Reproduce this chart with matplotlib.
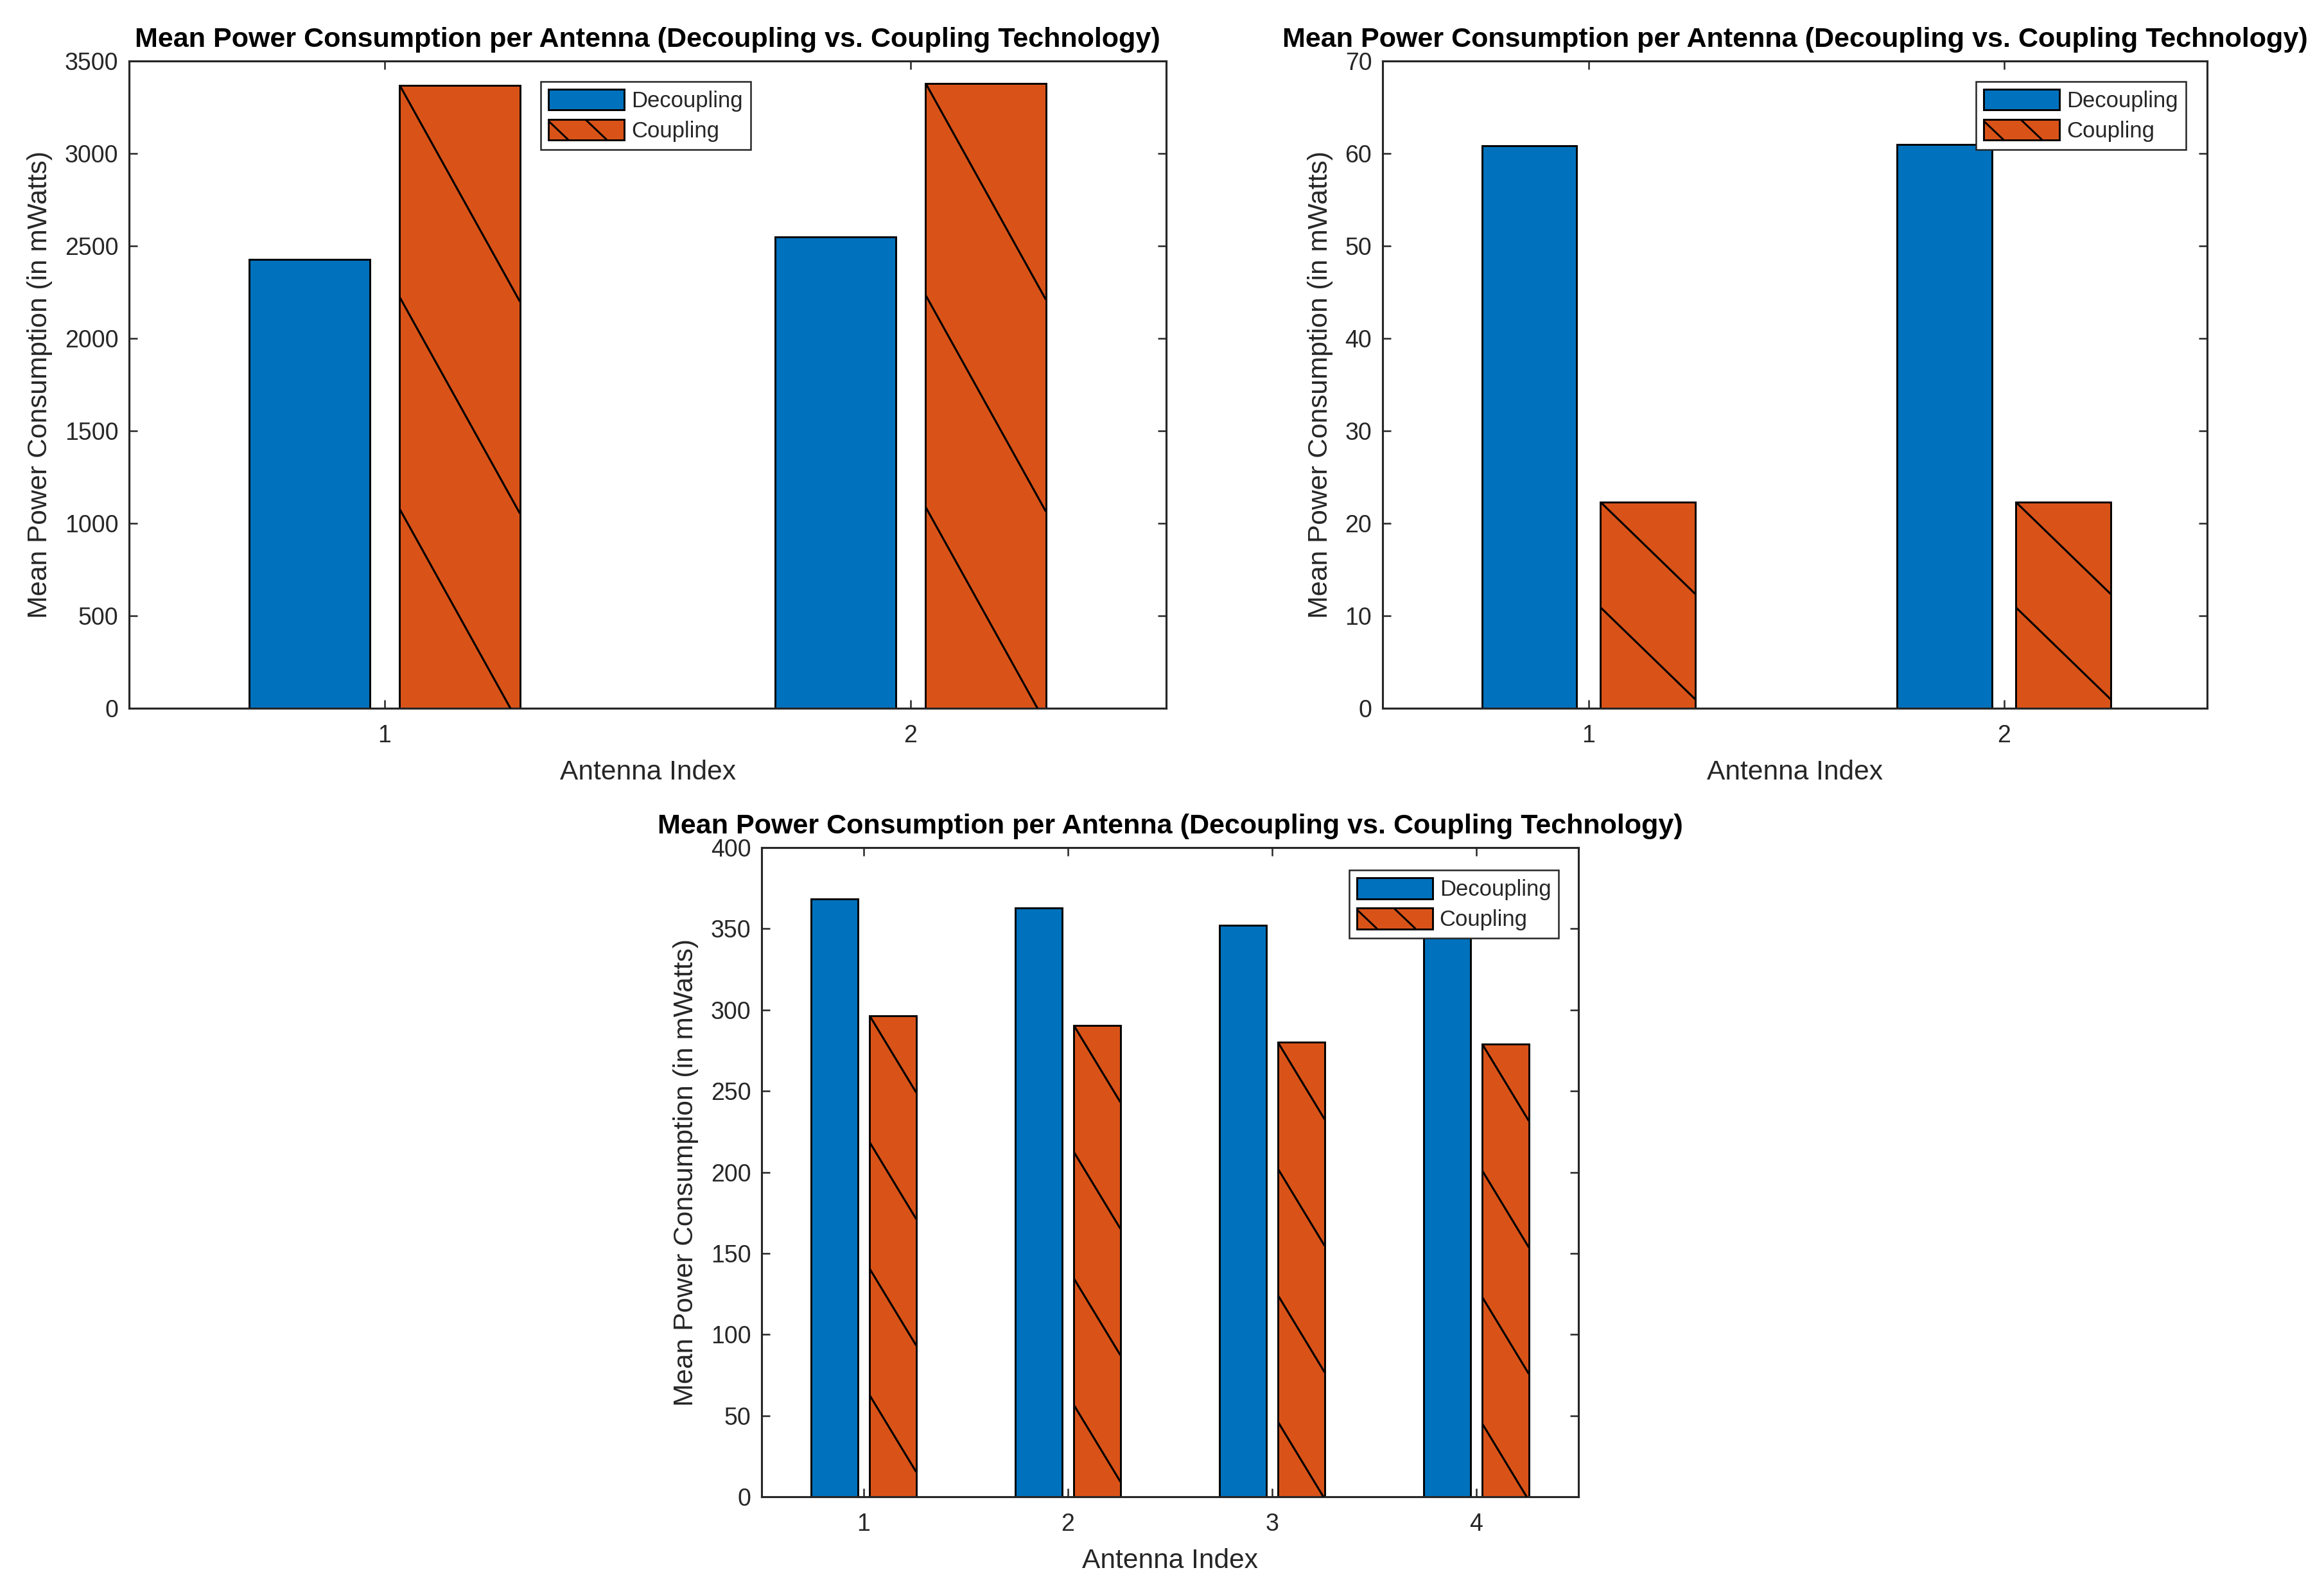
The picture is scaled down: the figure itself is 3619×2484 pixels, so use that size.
import matplotlib
matplotlib.use('Agg')
import matplotlib.pyplot as plt
from matplotlib.patches import Rectangle
from matplotlib.lines import Line2D
from matplotlib.legend_handler import HandlerBase
import numpy as np

plt.rcParams['font.family'] = ['Liberation Sans', 'DejaVu Sans']

# ---------------- data ----------------
series_labels = ['Decoupling', 'Coupling']
title_text = 'Mean Power Consumption per Antenna (Decoupling vs. Coupling Technology)'
xlabel_text = 'Antenna Index'
ylabel_text = 'Mean Power Consumption (in mWatts)'

antennas_a = [1, 2]
decoupling_a = [2427, 2549]
coupling_a = [3369, 3380]
yticks_a = [0, 500, 1000, 1500, 2000, 2500, 3000, 3500]

antennas_b = [1, 2]
decoupling_b = [60.8, 61.0]
coupling_b = [22.3, 22.3]
yticks_b = [0, 10, 20, 30, 40, 50, 60, 70]

antennas_c = [1, 2, 3, 4]
decoupling_c = [368.5, 362.7, 352.0, 350.0]
coupling_c = [296.5, 290.5, 280.0, 279.0]
yticks_c = [0, 50, 100, 150, 200, 250, 300, 350, 400]

# ---------------- style ----------------
BLUE = '#0072BD'
ORANGE = '#D95319'
AX = '#262626'
W, H = 3619, 2484
DPI = 300

fig = plt.figure(figsize=(W / DPI, H / DPI), dpi=DPI)
fig.patch.set_facecolor('white')


def px_axes(l, t, r, b):
    return [l / W, 1 - b / H, (r - l) / W, (b - t) / H]


ax1 = fig.add_axes(px_axes(201, 95, 1816, 1103))
ax2 = fig.add_axes(px_axes(2153, 95, 3437, 1103))
ax3 = fig.add_axes(px_axes(1186, 1320, 2458, 2331))

GROUP_W = 2 / 3.5
OFF = GROUP_W / 4
BW = GROUP_W / 2 * 0.8


class HatchHandler(HandlerBase):
    def create_artists(self, legend, orig_handle, xdescent, ydescent,
                       width, height, fontsize, trans):
        x0, y0 = -xdescent, -ydescent
        r = Rectangle((x0, y0), width, height, facecolor=orig_handle.get_facecolor(),
                      edgecolor='black', lw=0.7, transform=trans)
        arts = [r]
        slope = 0.95
        dx = height / slope
        for fx in (-0.02, 0.49):
            xt = x0 + fx * width
            xs, ys = xt, y0 + height
            if xs < x0:
                ys = y0 + height - (x0 - xs) * slope
                xs = x0
            xe, ye = xt + dx, y0
            ln = Line2D([xs, xe], [ys, ye], color='black', lw=0.7,
                        solid_capstyle='butt', transform=trans)
            arts.append(ln)
        return arts


def draw(ax, xs, dec, cpl, yticks, xlim, slope, spacing, leg_loc, leg_anchor):
    x = np.array(xs, dtype=float)
    ax.set_xlim(*xlim)
    ax.set_ylim(yticks[0], yticks[-1])
    b1 = ax.bar(x - OFF, dec, BW, color=BLUE, edgecolor='black', lw=0.7, zorder=2)
    b2 = ax.bar(x + OFF, cpl, BW, color=ORANGE, edgecolor='black', lw=0.7, zorder=2)
    ax.set_xticks(xs)
    ax.set_xticklabels([str(v) for v in xs])
    ax.set_yticks(yticks)
    ax.set_yticklabels([str(v) for v in yticks])
    ax.tick_params(direction='in', length=3.1, width=0.6, top=True, right=True,
                   colors=AX, labelsize=9, labelcolor=AX)
    ax.tick_params(axis='x', pad=6.0)
    ax.tick_params(axis='y', pad=4.0)
    for s in ax.spines.values():
        s.set_color(AX)
        s.set_linewidth(0.75)
    ax.set_title(title_text, fontsize=10.35, fontweight='bold', color='black', pad=5.3)
    ax.set_xlabel(xlabel_text, fontsize=10.2, color=AX, labelpad=4.6)
    ax.set_ylabel(ylabel_text, fontsize=10.2, color=AX, labelpad=4.4)

    # hatch lines for coupling bars (steep "\" pattern)
    inv = ax.transData.inverted()
    for b in b2:
        bx, by, bw, bh = b.get_x(), b.get_y(), b.get_width(), b.get_height()
        (p0x, p0y), (p1x, p1y) = ax.transData.transform([(bx, by), (bx + bw, by + bh)])
        k = 0
        while True:
            ys = p1y - k * spacing
            if ys < p0y + 5:
                break
            ye = ys - slope * (p1x - p0x)
            pts = inv.transform([(p0x, ys), (p1x, ye)])
            ln, = ax.plot(pts[:, 0], pts[:, 1], color='black', lw=0.75, zorder=3,
                          solid_capstyle='butt')
            ln.set_clip_path(b)
            k += 1

    p_dec = Rectangle((0, 0), 1, 1, facecolor=BLUE, edgecolor='black', lw=0.7)
    p_cpl = Rectangle((0, 0), 1, 1, facecolor=ORANGE, edgecolor='black', lw=0.7)
    leg = ax.legend([p_dec, p_cpl], series_labels, loc=leg_loc, bbox_to_anchor=leg_anchor,
                    handler_map={p_cpl: HatchHandler()}, fontsize=8.3,
                    handlelength=3.4, handleheight=1.05, handletextpad=0.32,
                    labelspacing=0.35, borderpad=0.35, borderaxespad=0,
                    fancybox=False, framealpha=1, edgecolor=AX)
    leg.get_frame().set_linewidth(0.6)
    leg.set_zorder(5)
    for t in leg.get_texts():
        t.set_color(AX)


draw(ax1, antennas_a, decoupling_a, coupling_a, yticks_a, (0.514, 2.486), 1.8, 330,
     'upper left', (0.397, 0.968))
draw(ax2, antennas_b, decoupling_b, coupling_b, yticks_b, (0.504, 2.489), 0.97, 164,
     'upper right', (0.974, 0.968))
draw(ax3, antennas_c, decoupling_c, coupling_c, yticks_c, (0.5, 4.5), 1.65, 197,
     'upper right', (0.976, 0.965))

fig.savefig('out.png', dpi=DPI, facecolor='white')
